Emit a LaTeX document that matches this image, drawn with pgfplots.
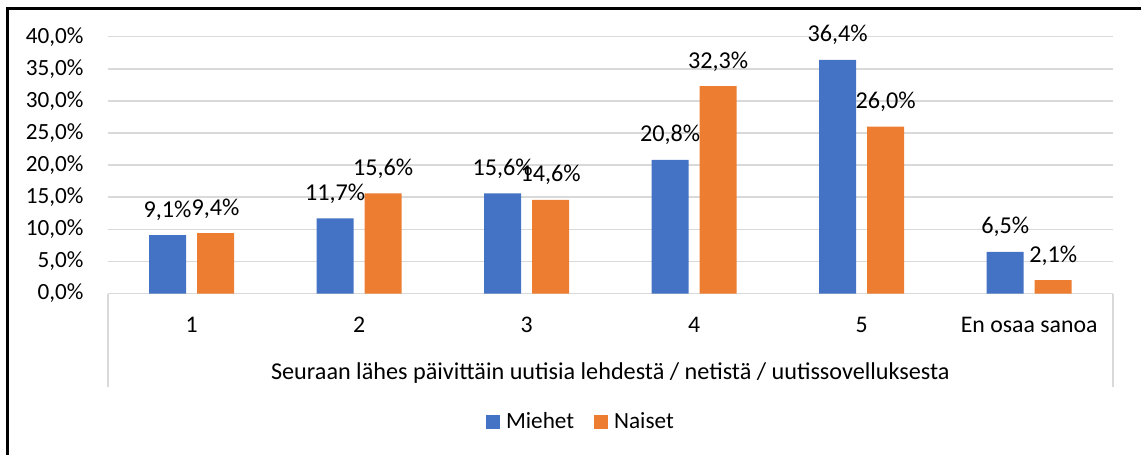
\documentclass[border=0pt]{standalone}
\usepackage{fontspec}
\setmainfont{Carlito}
\usepackage{pgfplots}
\pgfplotsset{compat=1.18}
\definecolor{miehet}{HTML}{4472C4}
\definecolor{naiset}{HTML}{ED7D31}
\definecolor{gridgray}{HTML}{D9D9D9}

\begin{document}
\begin{tikzpicture}[font=\fontsize{11.6}{14}\selectfont]
\useasboundingbox (0pt,0pt) rectangle (570.5pt,-227.5pt);
% chart frame (only left and top edge visible)
\draw[line width=1.5pt] (3.75pt,-240pt) -- (3.75pt,-4.25pt) -- (580pt,-4.25pt);
\begin{axis}[
    at={(53.9pt,-146.75pt)}, anchor=south west,
    scale only axis,
    width=502.6pt, height=128.4pt,
    ybar, bar width=18.5pt, ybar=5.5pt,
    ymin=0, ymax=40, ytick={0,5,...,40},
    xmin=-0.5, xmax=5.5,
    xtick={0,1,2,3,4,5},
    xticklabels={1,2,3,4,5,En osaa sanoa},
    axis line style={draw=none},
    major tick length=0pt,
    ymajorgrids,
    grid style={gridgray, line width=0.75pt},
    /pgf/number format/assume math mode=true,
    yticklabel={\pgfmathprintnumber[fixed,fixed zerofill,precision=1,use comma]{\tick}\%},
    yticklabel style={anchor=east, inner sep=0pt, xshift=-12pt},
    xticklabel style={anchor=base, inner sep=0pt, yshift=-19.25pt, font=\fontsize{11.9}{14}\selectfont},
    nodes near coords={\pgfmathprintnumber[fixed,fixed zerofill,precision=1,use comma]{\pgfplotspointmeta}\%},
    every node near coord/.append style={anchor=base, inner sep=0pt, yshift=9pt, black,
        font=\fontsize{12.1}{14}\selectfont},
    clip=false,
    legend style={
        at={(0.4697,-0.502)}, anchor=center,
        draw=none, fill=none, inner sep=0pt,
        legend columns=2,
        /tikz/every even column/.append style={column sep=10pt},
        nodes={inner sep=0pt, anchor=base west},
    },
    legend image code/.code={\fill[#1] (0pt,0pt) rectangle (7pt,7pt);},
]
\addplot[fill=miehet, draw=none] coordinates {
    (0,9.1) (1,11.7) (2,15.6) (3,20.8) (4,36.4) (5,6.5)
};
\addlegendentry{\hspace{3pt}Miehet}
\addplot[fill=naiset, draw=none] coordinates {
    (0,9.4) (1,15.6) (2,14.6) (3,32.3) (4,26.0) (5,2.1)
};
\addlegendentry{\hspace{3pt}Naiset}
% multi-level category axis frame
\draw[gridgray, line width=0.75pt] (rel axis cs:0,0) -- ([yshift=-46.5pt]rel axis cs:0,0);
\draw[gridgray, line width=0.75pt] (rel axis cs:1,0) -- ([yshift=-46.5pt]rel axis cs:1,0);
\node[anchor=base, inner sep=0pt, font=\fontsize{12.1}{14}\selectfont] at ([yshift=-43pt]rel axis cs:0.5,0)
    {Seuraan lähes päivittäin uutisia lehdestä / netistä / uutissovelluksesta};
\end{axis}
\end{tikzpicture}
\end{document}
